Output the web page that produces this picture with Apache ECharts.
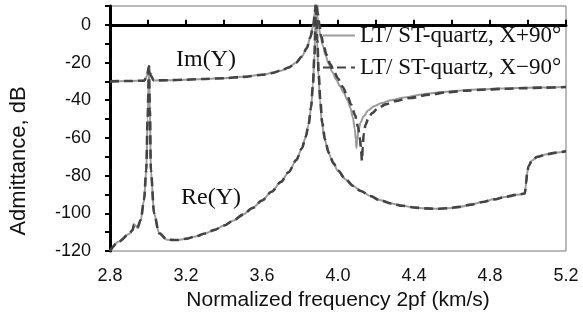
<!DOCTYPE html>
<html><head><meta charset="utf-8">
<script src="https://cdn.jsdelivr.net/npm/echarts@6/dist/echarts.min.js"></script>
<style>html,body{margin:0;padding:0;background:#fff}#c{width:583px;height:320px}</style>
</head><body><div id="c"></div>
<script>
// ---- data ----
const seriesNames = ['LT/ ST-quartz, X+90°', 'LT/ ST-quartz, X\u221290°'];
const xTickLabels = ['2.8','3.2','3.6','4.0','4.4','4.8','5.2'];
const yTickLabels = ['-120','-100','-80','-60','-40','-20','0'];
const yAxisTitle = 'Admittance, dB';
const xAxisTitle = 'Normalized frequency 2pf (km/s)';

// Im(Y), X+90° (solid)
const freqImPlus = [2.80,2.90,2.98,2.995,3.005,3.015,3.03,3.10,3.20,3.30,3.40,3.50,3.60,3.65,3.70,3.74,3.78,3.81,3.835,3.855,3.87,3.88,3.886,3.893,3.90,3.91,3.92,3.935,3.95,3.97,3.99,4.01,4.03,4.05,4.065,4.078,4.088,4.094,4.097,4.101,4.107,4.118,4.135,4.16,4.19,4.23,4.28,4.35,4.45,4.55,4.65,4.75,4.85,4.95,5.05,5.20];
const imPlus     = [-30,-29.8,-29.6,-27,-22,-27,-29.5,-29.4,-29.1,-28.7,-28.3,-27.6,-26.5,-25.6,-24.3,-22.6,-20,-16.8,-12.5,-6.5,0,8,12,4,-2,-7,-11,-16.3,-20.5,-25,-29,-32.5,-36,-40,-44,-49,-55,-61,-65.5,-61,-56.5,-52,-48.5,-45.3,-43.2,-41.5,-40,-38.5,-36.8,-35.6,-34.8,-34.2,-33.8,-33.5,-33.3,-33.0];

// Im(Y), X-90° (dashed)
const freqImMinus = [2.80,2.90,2.98,2.995,3.005,3.015,3.03,3.10,3.20,3.30,3.40,3.50,3.60,3.65,3.70,3.74,3.78,3.81,3.835,3.855,3.87,3.88,3.886,3.894,3.902,3.912,3.925,3.94,3.96,3.98,4.00,4.025,4.05,4.07,4.09,4.105,4.115,4.122,4.126,4.13,4.135,4.145,4.16,4.18,4.21,4.25,4.30,4.38,4.48,4.58,4.68,4.78,4.88,4.98,5.08,5.20];
const imMinus     = [-30,-29.8,-29.6,-27,-22,-27,-29.5,-29.4,-29.1,-28.7,-28.3,-27.6,-26.5,-25.6,-24.3,-22.6,-20,-16.8,-12.5,-6.5,0,8,12,6,0,-6,-11.5,-16,-21,-25,-28.5,-33,-38,-42.5,-48,-54,-60,-67,-72,-65,-58,-53,-49.5,-46.8,-44.3,-42.2,-40.5,-38.8,-37,-35.7,-34.9,-34.3,-33.9,-33.6,-33.3,-33.0];

// Re(Y), X+90° (solid)
const freqRePlus = [2.80,2.847,2.90,2.918,2.927,2.935,2.944,2.962,2.979,2.991,2.998,3.005,3.010,3.015,3.032,3.058,3.10,3.15,3.20,3.25,3.30,3.35,3.40,3.45,3.50,3.55,3.60,3.65,3.70,3.74,3.78,3.81,3.83,3.845,3.858,3.868,3.876,3.884,3.89,3.897,3.905,3.915,3.93,3.95,3.975,4.00,4.04,4.08,4.12,4.17,4.22,4.28,4.34,4.40,4.46,4.52,4.58,4.64,4.70,4.76,4.82,4.88,4.94,4.983,4.99,4.995,5.003,5.02,5.05,5.10,5.15,5.20];
const rePlus     = [-120,-115,-111,-109,-106,-106.5,-107.7,-103.5,-93,-77,-50,-24,-45,-77,-100,-110.5,-114,-114.2,-113.5,-112.3,-110.7,-108.8,-106.5,-103.8,-100.7,-97.2,-93.2,-88.6,-83.3,-78.2,-71.8,-65.5,-59.5,-53,-44,-32,-16,12,-8,-27,-40,-52,-61,-68,-73.5,-77.5,-82,-85.5,-88.2,-90.8,-93,-94.8,-96,-96.9,-97.4,-97.6,-97.3,-96.6,-95.4,-94,-92.6,-91.3,-90.2,-89.5,-84,-79,-75,-72,-70,-68.6,-67.8,-67];

// Re(Y), X-90° (dashed)
const freqReMinus = [2.80,2.847,2.90,2.918,2.927,2.935,2.944,2.962,2.979,2.991,2.998,3.005,3.010,3.015,3.032,3.058,3.10,3.15,3.20,3.25,3.30,3.35,3.40,3.45,3.50,3.55,3.60,3.65,3.70,3.74,3.78,3.81,3.83,3.845,3.858,3.868,3.876,3.884,3.891,3.899,3.907,3.917,3.932,3.952,3.977,4.00,4.04,4.08,4.12,4.17,4.22,4.28,4.34,4.40,4.46,4.52,4.58,4.64,4.70,4.76,4.82,4.88,4.94,4.983,4.99,4.995,5.003,5.02,5.05,5.10,5.15,5.20];
const reMinus     = [-120,-115,-111,-109,-106,-106.5,-107.7,-103.5,-93,-77,-50,-24,-45,-77,-100,-110.5,-114,-114.2,-113.5,-112.3,-110.7,-108.8,-106.5,-103.8,-100.7,-97.2,-93.2,-88.6,-83.3,-78.2,-71.8,-65.5,-59.5,-53,-44,-32,-16,12,-8,-27,-40,-52,-61,-68,-73.5,-77.3,-82,-85.5,-88.2,-90.8,-93,-94.8,-96,-96.9,-97.4,-97.6,-97.3,-96.6,-95.4,-94,-92.6,-91.3,-90.2,-89.5,-84,-79,-75,-72,-70,-68.6,-67.8,-67];

function pairs(xs, ys) { return xs.map((x, i) => [x, ys[i]]); }

const solid = { color: '#9b9b9b', width: 2 };
const dashed = { color: '#444444', width: 2.6, type: [9, 5] };
const serif = '"Liberation Serif", "Times New Roman", serif';
const sans = '"Liberation Sans", Arial, sans-serif';

const chart = echarts.init(document.getElementById('c'), null, { renderer: 'canvas' });
chart.setOption({
  animation: false,
  backgroundColor: '#fff',
  grid: { left: 110, right: 17, top: 6, bottom: 69, show: true, borderColor: '#777', borderWidth: 1, containLabel: false },
  legend: {
    orient: 'vertical', left: 317, top: 19,
    itemWidth: 32, itemHeight: 14, itemGap: 9,
    itemStyle: { color: 'rgba(0,0,0,0)', borderColor: 'rgba(0,0,0,0)', borderWidth: 0, opacity: 0 },
    data: seriesNames,
    textStyle: { fontFamily: serif, fontSize: 23, color: '#111', lineHeight: 23 }
  },
  xAxis: {
    type: 'value', min: 2.8, max: 5.2, interval: 0.4,
    name: xAxisTitle, nameLocation: 'middle', nameGap: 37,
    nameTextStyle: { fontFamily: sans, fontSize: 21, color: '#111' },
    axisLine: { lineStyle: { color: '#000', width: 3 } },
    axisTick: { inside: true, length: 5, lineStyle: { color: '#000', width: 2 } },
    minorTick: { show: true, splitNumber: 2, length: 5, lineStyle: { color: '#000', width: 2 } },
    axisLabel: { margin: 16, fontFamily: sans, fontSize: 18, color: '#111',
      formatter: v => { const i = Math.round((v - 2.8) / 0.4); return Math.abs(v - (2.8 + i * 0.4)) < 1e-6 ? xTickLabels[i] : ''; } },
    splitLine: { show: false }
  },
  yAxis: {
    type: 'value', min: -120, max: 10, interval: 20,
    axisLine: { lineStyle: { color: '#000', width: 3 } },
    axisTick: { inside: false, length: 5, lineStyle: { color: '#000', width: 2 } },
    minorTick: { show: true, splitNumber: 2, length: 5, lineStyle: { color: '#000', width: 2 } },
    axisLabel: { margin: 19, fontFamily: sans, fontSize: 18, color: '#111', showMaxLabel: false,
      formatter: v => { const i = Math.round((v + 120) / 20); return (i >= 0 && i < yTickLabels.length && v === -120 + i * 20) ? yTickLabels[i] : ''; } },
    splitLine: { show: false }
  },
  graphic: [
    { type: 'text', x: 19, y: 161, rotation: Math.PI / 2,
      style: { text: yAxisTitle, font: '22px ' + sans, fill: '#111', align: 'center', verticalAlign: 'middle' } },
    { type: 'text', left: 176, top: 48, style: { text: 'Im(Y)', font: '24px ' + serif, fill: '#111' } },
    { type: 'text', left: 181, top: 186, style: { text: 'Re(Y)', font: '24px ' + serif, fill: '#111' } }
  ],
  series: [
    { name: seriesNames[0], type: 'line', symbol: 'none', smooth: 0.3, smoothMonotone: 'x', lineStyle: solid, itemStyle: { color: solid.color }, data: pairs(freqImPlus, imPlus), z: 2 },
    { name: seriesNames[0], type: 'line', symbol: 'none', smooth: 0.3, smoothMonotone: 'x', lineStyle: solid, itemStyle: { color: solid.color }, data: pairs(freqRePlus, rePlus), z: 2 },
    { name: seriesNames[1], type: 'line', symbol: 'none', smooth: 0.3, smoothMonotone: 'x', lineStyle: dashed, itemStyle: { color: dashed.color }, data: pairs(freqImMinus, imMinus), z: 3 },
    { name: seriesNames[1], type: 'line', symbol: 'none', smooth: 0.3, smoothMonotone: 'x', lineStyle: dashed, itemStyle: { color: dashed.color }, data: pairs(freqReMinus, reMinus), z: 3 }
  ]
});
</script>
</body></html>
